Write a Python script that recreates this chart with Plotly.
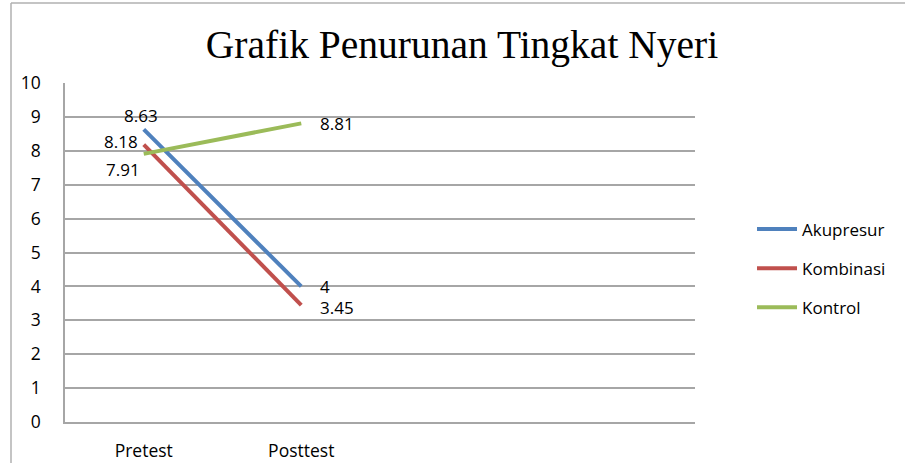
import plotly.graph_objects as go

categories = ["Pretest", "Posttest"]
all_slots = ["Pretest", "Posttest", "slot3", "slot4"]
akupresur = [8.63, 4]
kombinasi = [8.18, 3.45]
kontrol = [7.91, 8.81]
y_ticks = list(range(0, 11))

font_main = "Open Sans, Liberation Sans, sans-serif"
fig = go.Figure()

# label placement (anchor, xshift, yshift) per point
series = [
    ("Akupresur", akupresur, "#4F81BD", [("center", -3, 14), ("left", 17, 0)]),
    ("Kombinasi", kombinasi, "#C0504D", [("right", -4, 3), ("left", 17, -2)]),
    ("Kontrol", kontrol, "#9BBB59", [("right", -2, -16), ("left", 17, 0)]),
]
for name, vals, color, pos in series:
    fig.add_trace(go.Scatter(
        x=categories, y=vals, name=name, mode="lines",
        line=dict(color=color, width=4),
        legendgroup=name, cliponaxis=False,
    ))
    for cat, v, (anc, xs, ys) in zip(categories, vals, pos):
        fig.add_annotation(x=cat, y=v, text=f"{v:g}", showarrow=False,
                           xanchor=anc, yanchor="middle", xshift=xs, yshift=ys,
                           font=dict(family=font_main, size=17, color="#000"))

fig.update_layout(
    width=905, height=463,
    margin=dict(l=65, r=210, t=83, b=41, autoexpand=False),
    paper_bgcolor="white", plot_bgcolor="white",
    showlegend=True,
    legend=dict(x=1.0905, y=0.4527, xanchor="left", yanchor="middle",
                font=dict(family=font_main, size=17, color="#000"),
                tracegroupgap=14, traceorder="grouped",
                bgcolor="rgba(0,0,0,0)", itemwidth=40),
    title=dict(text="Grafik Penurunan Tingkat Nyeri", x=462/905, xref="container",
               xanchor="center", y=1-44/463, yref="container", yanchor="middle",
               font=dict(family="Liberation Serif, Times New Roman, serif", size=39.5, color="#000")),
    xaxis=dict(type="category", categoryarray=all_slots, range=[-0.5, 3.5],
               tickvals=categories, ticktext=categories, automargin=False,
               showgrid=False, showline=True, linecolor="#a6a6a6", linewidth=1.5,
               ticks="", tickfont=dict(family=font_main, size=17.5, color="#000"),
               ticklabelstandoff=12, zeroline=False),
    yaxis=dict(range=[0, 10], tickvals=y_ticks, showgrid=True, gridcolor="#a6a6a6",
               gridwidth=1.5, showline=True, linecolor="#a6a6a6", linewidth=1.5,
               ticks="", tickfont=dict(family=font_main, size=17.5, color="#000"),
               ticklabelstandoff=19, zeroline=False, automargin=False),
)

# outer chart border (left and top edges visible in reference)
fig.add_shape(type="line", xref="paper", yref="paper", x0=(11-65)/630, x1=1.5,
              y0=(422-3)/339, y1=(422-3)/339, line=dict(color="#b0b0b0", width=1.5))
fig.add_shape(type="line", xref="paper", yref="paper", x0=(11-65)/630, x1=(11-65)/630,
              y0=(422-3)/339, y1=-0.2, line=dict(color="#b0b0b0", width=1.5))

fig.write_html("out.html", config={"displayModeBar": False},
               post_script="document.body.style.margin='0';")
